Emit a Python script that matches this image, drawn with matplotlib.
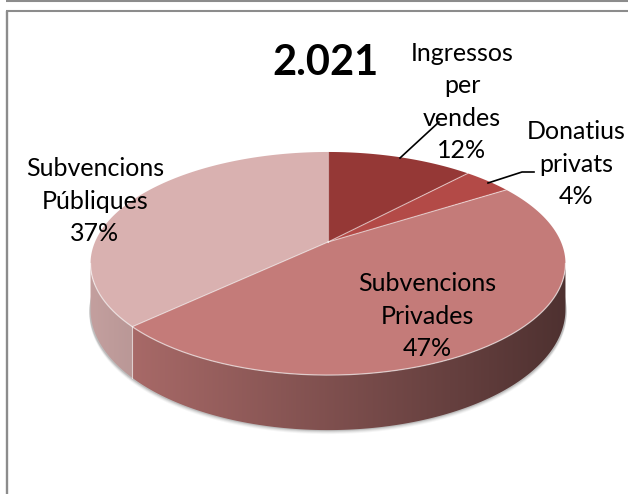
import numpy as np
import matplotlib
matplotlib.use("Agg")
import matplotlib.pyplot as plt
from matplotlib.patches import Polygon
from matplotlib.colors import to_rgb

plt.rcParams["font.family"] = ["Lato", "DejaVu Sans"]

# Data
title = "2.021"
categories = ["Ingressos\nper\nvendes", "Donatius\nprivats",
              "Subvencions\nPrivades", "Subvencions\nPúbliques"]
shares = [12, 4, 47, 37]
colors = ["#953836", "#B34A47", "#C47B79", "#D9B1B0"]

# label placement (pixel coords)
label_pos = [(462, 102), (576, 164), (427, 316), (95, 201)]

# pie geometry in pixels (perspective-ish 3D pie)
X0, Y0 = 328, 242
A, B = 233, 107.4
K = 0.193
H = 44.4


def rim(theta_deg, depth=0.0):
    t = np.radians(theta_deg)
    u = np.sin(t)
    v = -np.cos(t)
    w = 1 - K * v
    return X0 + A * u / w, Y0 + (B * v + depth) / w


fig = plt.figure(figsize=(6.28, 4.94), dpi=100)
ax = fig.add_axes([0, 0, 1, 1])

# frame lines
ax.plot([6, 628], [1.5, 1.5], color="#8c8c8c", lw=1.5, solid_capstyle="butt")
ax.plot([6, 628], [11.5, 11.5], color="#8c8c8c", lw=1.5, solid_capstyle="butt")
ax.plot([6.5, 6.5], [11, 494], color="#8c8c8c", lw=1.7, solid_capstyle="butt")

# soft shadow under the pie
full = np.linspace(0, 360, 361)
for off, alpha in [(4, 0.06), (3, 0.09), (2, 0.13), (1, 0.2)]:
    bx, by = rim(full, H)
    ax.add_patch(Polygon(np.column_stack([X0 + (bx - X0) * 1.005, by + off]),
                         closed=True, fc="#606060", ec="none", alpha=alpha, zorder=1))

edges = np.concatenate([[0], np.cumsum(shares)]) * 3.6
vis_lo = 90 + np.degrees(np.arcsin(K))
vis_hi = 270 - np.degrees(np.arcsin(K))

# side faces with left-to-right darkening gradient
gx = np.linspace(85, 570, 400)
shade = 0.9 - 0.5 * (gx - 90) / 475
for i, c in enumerate(colors):
    a0, a1 = max(edges[i], vis_lo), min(edges[i + 1], vis_hi)
    if a1 <= a0:
        continue
    th = np.linspace(a0, a1, 120)
    tx, ty = rim(th)
    bx, by = rim(th[::-1], H)
    verts = np.column_stack([np.concatenate([tx, bx]), np.concatenate([ty, by])])
    poly = Polygon(verts, closed=True, fc="none", ec="none")
    ax.add_patch(poly)
    rgb = np.array(to_rgb(c))
    img = np.clip(shade[None, :, None] * rgb[None, None, :], 0, 1)
    im = ax.imshow(img, extent=(85, 570, 440, 150), aspect="auto",
                   interpolation="bilinear", zorder=2)
    im.set_clip_path(poly)
    # light seam at slice boundary on the side
    if vis_lo < edges[i + 1] < vis_hi:
        sx, sy = rim(edges[i + 1])
        _, sy2 = rim(edges[i + 1], H)
        ax.plot([sx, sx], [sy, sy2], color="white", lw=0.8, alpha=0.6, zorder=3)

# top face slices
for i, c in enumerate(colors):
    th = np.linspace(edges[i], edges[i + 1], 150)
    tx, ty = rim(th)
    verts = np.column_stack([np.concatenate([[X0], tx]), np.concatenate([[Y0], ty])])
    ax.add_patch(Polygon(verts, closed=True, fc=c, ec="none", zorder=4))

for e in edges[:-1]:
    ex, ey = rim(e)
    ax.plot([X0, ex], [Y0, ey], color="white", lw=0.8, alpha=0.55, zorder=5)

# highlight along front rim
th = np.linspace(vis_lo, vis_hi, 200)
fx, fy = rim(th)
ax.plot(fx, fy, color="white", lw=0.9, alpha=0.6, zorder=5)

# labels
for (lx, ly), cat, s in zip(label_pos, categories, shares):
    ax.text(lx, ly, f"{cat}\n{s}%", ha="center", va="center", fontsize=18,
            linespacing=1.5, color="black", zorder=6)

# leader lines
ax.plot([400, 439], [158, 122], color="black", lw=1.2, zorder=6)
ax.plot([488, 522, 534], [183, 172, 172], color="black", lw=1.2, zorder=6)

ax.text(326, 63, title, ha="center", va="center", fontsize=30,
        fontweight="bold", color="black", zorder=6)

ax.set_xlim(0, 628)
ax.set_ylim(494, 0)
ax.axis("off")

fig.savefig("out.png", dpi=100, facecolor="white")
